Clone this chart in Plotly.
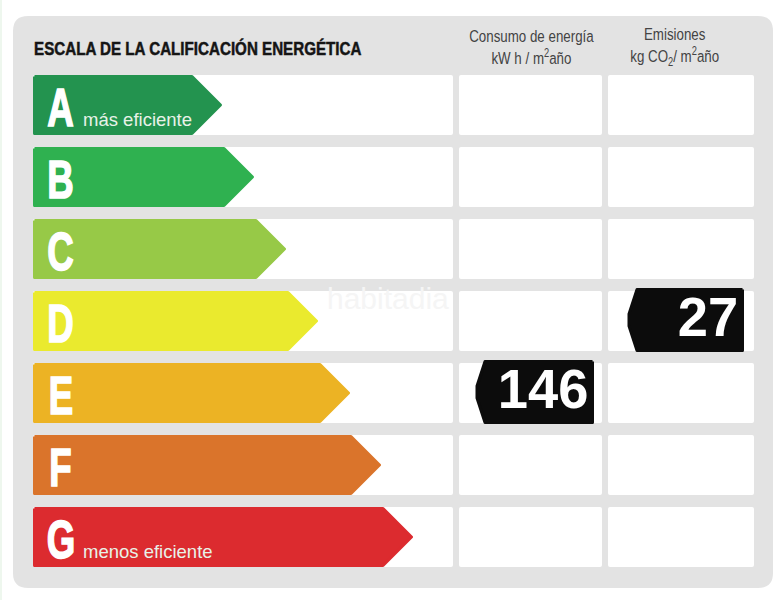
import json
import plotly.graph_objects as go

# rating scale, top to bottom
ratings = ["A", "B", "C", "D", "E", "F", "G"]
colors = ["#23934f", "#2fb150", "#97c947", "#eaea2e", "#ecb324", "#da742b", "#dc2b2f"]
notes = ["más eficiente", "", "", "", "", "", "menos eficiente"]
arrow_tips = [222, 254, 286, 318, 350, 381, 413]

# the two black value tags
tag_values = ["146", "27"]
tag_rows = [4, 3]
tag_lefts = [476, 628]
tag_rights = [594, 744]

title_text = "ESCALA DE LA CALIFICACIÓN ENERGÉTICA"
col_heads = ["Consumo de energía<br>kW h / m<sup>2</sup>año", "Emisiones<br>kg CO<sub>2</sub>/ m<sup>2</sup>año"]
col_centers = [531, 674]

ROW_TOP = 75
ROW_H = 60
ROW_STEP = 72
LEFT = 33
FONT = "Liberation Sans, Arial, sans-serif"


def rounded_rect(x0, y0, x1, y1, r):
    return (
        f"M{x0+r},{y0} L{x1-r},{y0} Q{x1},{y0} {x1},{y0+r} L{x1},{y1-r} Q{x1},{y1} {x1-r},{y1} "
        f"L{x0+r},{y1} Q{x0},{y1} {x0},{y1-r} L{x0},{y0+r} Q{x0},{y0} {x0+r},{y0} Z"
    )


fig = go.Figure()
squeeze = []  # horizontal scale, anchor and extra weight per annotation, no narrow font is installed


def add_text(x, y, text, size, color, anchor="center", sx=1.0, weight=0):
    fig.add_annotation(x=x, y=y, text=text, showarrow=False, xanchor=anchor, yanchor="middle",
                       font=dict(family=FONT, size=size, color=color))
    squeeze.append([sx, anchor, weight, color])


shapes = [
    dict(type="line", x0=1, x1=1, y0=0, y1=600, line=dict(color="#eef7ee", width=2), layer="below"),
    dict(type="path", path=rounded_rect(13, 16, 773, 588, 15), fillcolor="#e3e3e3", line_width=0, layer="below"),
]

for i, name in enumerate(ratings):
    top = ROW_TOP + i * ROW_STEP
    bottom = top + ROW_H
    mid = top + ROW_H / 2
    for x0, x1 in [(LEFT, 453), (459, 602), (608, 754)]:
        shapes.append(dict(type="path", path=rounded_rect(x0, top, x1, bottom, 2), fillcolor="#ffffff", line_width=0, layer="below"))

    # arrow, inset a little so the round line join gives the soft corners
    tip = arrow_tips[i]
    fig.add_trace(go.Scatter(
        x=[LEFT + 1.5, tip - 30, tip - 1.5, tip - 30, LEFT + 1.5, LEFT + 1.5],
        y=[top + 1.5, top + 1.5, mid, bottom - 1.5, bottom - 1.5, top + 1.5],
        mode="lines",
        fill="toself",
        fillcolor=colors[i],
        line=dict(color=colors[i], width=3),
        hoverinfo="skip",
    ))
    add_text(60.5, mid + 2, f"<b>{name}</b>", 54, "#ffffff", sx=0.68, weight=1.6)
    if notes[i]:
        add_text(81, bottom - 16, notes[i], 18.5, "#e8f2e8", anchor="left")

for value, row, x0, x1 in zip(tag_values, tag_rows, tag_lefts, tag_rights):
    top = ROW_TOP + row * ROW_STEP - 3
    bottom = top + 64
    mid = (top + bottom) / 2
    fig.add_trace(go.Scatter(
        x=[x1 - 1.5, x0 + 9, x0 + 1, x0 + 1, x0 + 9, x1 - 1.5, x1 - 1.5],
        y=[top + 1.5, top + 1.5, mid - 6, mid + 6, bottom - 1.5, bottom - 1.5, top + 1.5],
        mode="lines",
        fill="toself",
        fillcolor="#0c0c0c",
        line=dict(color="#0c0c0c", width=3),
        hoverinfo="skip",
    ))
    add_text(x1 - 4.5, mid - 3.5, f"<b>{value}</b>", 56, "#ffffff", anchor="right", sx=0.97)

add_text(32, 48, f"<b>{title_text}</b>", 18.5, "#151515", anchor="left", sx=0.82, weight=0.5)
for head, cx in zip(col_heads, col_centers):
    add_text(cx, 47, head, 17, "#444444", sx=0.785)

# faint watermark
add_text(388, 298, "habitadia", 30, "#f5f5f5")

fig.update_layout(
    width=778,
    height=600,
    margin=dict(l=0, r=0, t=0, b=0),
    paper_bgcolor="#ffffff",
    plot_bgcolor="#ffffff",
    showlegend=False,
    shapes=shapes,
    xaxis=dict(range=[0, 778], visible=False, fixedrange=True),
    yaxis=dict(range=[600, 0], visible=False, fixedrange=True),
)

# drop the page margin, round the arrow corners and narrow the text in place
post_script = """
document.body.style.margin = '0';
document.querySelectorAll('.scatterlayer .js-line').forEach(function (p) {
    p.style.strokeLinejoin = 'round';
});
var squeeze = %s;
document.querySelectorAll('.annotation').forEach(function (a) {
    var s = squeeze[+a.getAttribute('data-index')];
    var t = a.querySelector('.annotation-text');
    var b = t.getBBox();
    var ax = s[1] === 'left' ? b.x : s[1] === 'right' ? b.x + b.width : b.x + b.width / 2;
    t.setAttribute('transform', 'translate(' + ax + ',0) scale(' + s[0] + ',1) translate(' + (-ax) + ',0)');
    if (s[2]) {
        t.style.stroke = s[3];
        t.style.strokeWidth = s[2] + 'px';
    }
});
""" % json.dumps(squeeze)

fig.write_html("out.html", config=dict(displayModeBar=False), post_script=post_script)
